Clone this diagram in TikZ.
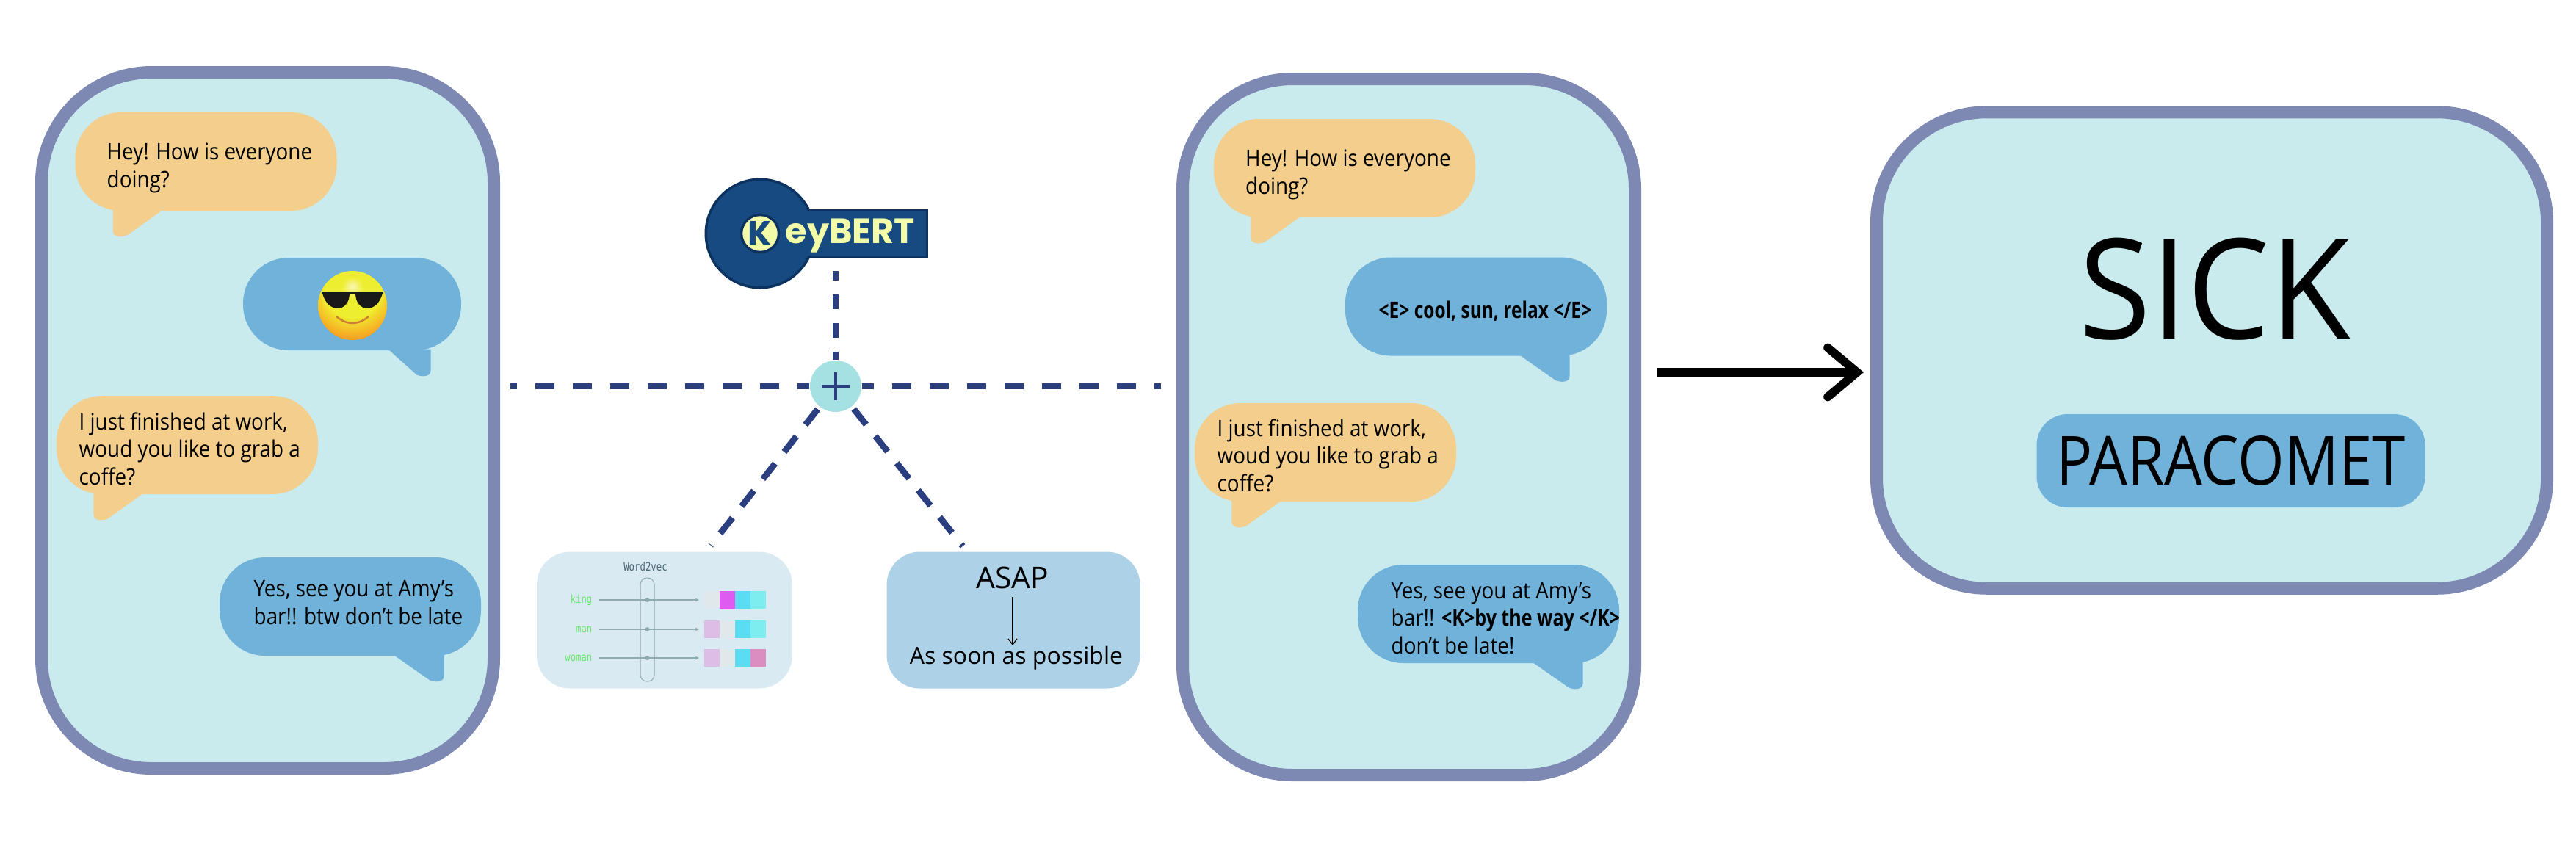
\documentclass[tikz,border=0pt]{standalone}
\usepackage{fontspec}
\setmainfont{Open Sans}
\newfontfamily\msgfont[FakeStretch=0.9]{Open Sans}
\newfontfamily\logofont{Poppins}
\newfontfamily\vecfont{DejaVu Sans Mono}
\usetikzlibrary{arrows.meta,positioning,calc}
\definecolor{panelFill}{HTML}{C9EBEE}
\definecolor{panelLine}{HTML}{7D89B3}
\definecolor{msgOrange}{HTML}{F3CE8C}
\definecolor{msgBlue}{HTML}{70B2D9}
\definecolor{linkBlue}{HTML}{2B3F80}
\definecolor{plusFill}{HTML}{A5E0E3}
\definecolor{kbBlue}{HTML}{174A80}
\definecolor{kbDark}{HTML}{0C3360}
\definecolor{kbLight}{HTML}{F2FCA8}
\definecolor{wvBox}{HTML}{DAEAF3}
\definecolor{wvLine}{HTML}{8FAAB0}
\definecolor{wvHead}{HTML}{4A6775}
\definecolor{wvWord}{HTML}{66E86A}
\definecolor{wvGray}{HTML}{E0E8EC}
\definecolor{wvPink}{HTML}{DD5BEF}
\definecolor{wvCyan}{HTML}{5ADDF2}
\definecolor{wvAqua}{HTML}{7DEDF0}
\definecolor{wvLilac}{HTML}{DDBDE6}
\definecolor{wvRose}{HTML}{DB8CC0}
\definecolor{asapFill}{HTML}{ADD2E8}
\definecolor{sunA}{HTML}{F7F6B0}
\definecolor{sunB}{HTML}{EEEE30}
\definecolor{sunC}{HTML}{F8A822}
\definecolor{sunD}{HTML}{E4601A}
\pgfdeclareradialshading{sunface}{\pgfpoint{0bp}{14bp}}{color(0bp)=(sunA); color(8bp)=(sunB); color(20bp)=(sunB); color(32bp)=(sunC); color(46bp)=(sunD); color(100bp)=(sunD)}
\tikzset{
  panel/.style={draw=panelLine, fill=panelFill, line width=0.17cm, rounded corners=1.5cm, inner sep=0pt},
  msg/.style={fill=#1, rounded corners=0.62cm, inner sep=0pt, minimum width=3.56cm, minimum height=1.34cm},
  msgtext/.style={inner sep=0pt, align=left, anchor=base west, font=\msgfont\fontsize{8.8}{10.67}\selectfont},
  link/.style={draw=linkBlue, line width=0.085cm, dash pattern=on 0.26cm off 0.25cm},
  vecarrow/.style={draw=wvLine, -{Latex[length=0.05cm,width=0.05cm]}, shorten <=0.09cm, shorten >=0.06cm},
  veccell/.style={minimum width=0.21cm, minimum height=0.24cm, inner sep=0pt},
  vecword/.style={inner sep=0pt, anchor=east, text=wvWord, font=\vecfont\fontsize{4.3}{5}\selectfont},
  softbox/.style={rounded corners=0.45cm, minimum width=#1, minimum height=1.86cm, inner sep=0pt},
}
\begin{document}
\begin{tikzpicture}
\useasboundingbox (0,0) rectangle (35.08,-11.77);
% --- panels
\node[panel, minimum width=6.16cm, minimum height=9.48cm] (chatA) at (3.645,-5.725) {};
\node[panel, minimum width=6.16cm, minimum height=9.48cm] (chatB) at (19.185,-5.815) {};
\node[panel, minimum width=9.13cm, minimum height=6.485cm] (sick) at (30.12,-4.77) {};
% --- left chat
\node[msg=msgOrange] (a1) at (2.805,-2.20) {};
\node[msg=msgBlue, minimum width=2.97cm, minimum height=1.26cm] (a2) at (4.795,-4.14) {};
\node[msg=msgOrange] (a3) at (2.55,-6.06) {};
\node[msg=msgBlue] (a4) at (4.77,-8.26) {};
% --- right chat
\node[msg=msgOrange] (b1) at (18.31,-2.29) {};
\node[msg=msgBlue] (b2) at (20.10,-4.175) {};
\node[msg=msgOrange] (b3) at (18.05,-6.16) {};
\node[msg=msgBlue] (b4) at (20.27,-8.36) {};
% --- bubble tails
\foreach \bub/\anc/\dir/\tx/\jn/\col in {a1/west/1/0.52/1.20/msgOrange, a3/west/1/0.51/1.19/msgOrange, b1/west/1/0.51/1.19/msgOrange, b3/west/1/0.51/1.19/msgOrange, a2/east/-1/0.42/1.00/msgBlue, a4/east/-1/0.51/1.20/msgBlue, b2/east/-1/0.51/1.20/msgBlue, b4/east/-1/0.50/1.19/msgBlue}{
  \fill[\col, shift={(\bub.south \anc)}, xscale=\dir] (\tx,0.02) -- (\tx,-0.27) .. controls (\tx,-0.33) and (\tx+0.07,-0.37) .. (\tx+0.19,-0.33) -- (\jn,0.02) -- cycle;
}
% --- messages
\node[msgtext] (a1t) at (1.45,-2.55) {Hey! How is everyone\\doing?};
\node[msgtext] (a3t) at (1.07,-6.60) {I just finished at work,\\woud you like to grab a\\coffe?};
\node[msgtext] (a4t) at (3.45,-8.50) {Yes, see you at Amy’s\\bar!! btw don’t be late};
\node[msgtext] (b1t) at (16.955,-2.64) {Hey! How is everyone\\doing?};
\node[msgtext, anchor=west, font=\msgfont\fontsize{8.8}{10.67}\selectfont\bfseries] (b2t) at (18.77,-4.24) {\scalebox{0.88}[1]{<E> cool, sun, relax </E>}};
\node[msgtext] (b3t) at (16.57,-6.69) {I just finished at work,\\woud you like to grab a\\coffe?};
\node[msgtext] (b4t) at (18.94,-8.90) {Yes, see you at Amy’s\\bar!! \scalebox{0.9}[1]{\bfseries <K>by the way </K>}\\don’t be late!};
% --- emoji
\node[circle, minimum size=0.94cm, inner sep=0pt, shading=sunface] (emo) at (4.80,-4.16) {};
\begin{scope}[shift={(emo.center)}]
\fill[black!90] (-0.41,0.17) -- (-0.04,0.17) .. controls (-0.04,-0.10) and (-0.34,-0.12) .. (-0.41,0.17) -- cycle;
\fill[black!90] (0.41,0.17) -- (0.04,0.17) .. controls (0.04,-0.10) and (0.34,-0.12) .. (0.41,0.17) -- cycle;
\draw[black!90, line width=0.03cm] (-0.42,0.18) -- (0.42,0.18);
\draw[brown!80!orange, line width=0.025cm] (-0.22,-0.15) .. controls (-0.08,-0.27) and (0.08,-0.27) .. (0.22,-0.15);
\end{scope}
% --- keybert logo
\node[draw=kbDark, fill=kbBlue, line width=0.035cm, minimum width=2.26cm, minimum height=0.64cm, inner sep=0pt] (flag) at (11.495,-3.185) {};
\node[circle, draw=kbDark, fill=kbBlue, line width=0.035cm, minimum size=1.475cm, inner sep=0pt] (keyc) at (10.35,-3.18) {};
\fill[kbBlue] ($(keyc.center)+(0,0.30)$) rectangle ($(flag.south east)+(-0.04,0.04)$);
\fill[kbBlue] ($(keyc.center)+(0,0.30)$) rectangle ($(flag.north east)+(-0.04,-0.04)$);
\node[circle, draw=kbDark, fill=kbLight, line width=0.035cm, minimum size=0.51cm, inner sep=0pt, text=kbBlue, font=\logofont\bfseries\fontsize{13.4}{14}\selectfont] (keyk) at (10.35,-3.18) {K};
\node[anchor=base west, inner sep=0pt, text=kbLight, font=\logofont\bfseries\fontsize{13.6}{14}\selectfont] (keyt) at (10.69,-3.317) {eyBERT};
% --- junction
\node[circle, fill=plusFill, minimum size=0.70cm, inner sep=0pt] (plus) at (11.38,-5.26) {};
\draw[linkBlue, line width=0.04cm] ($(plus.center)+(-0.19,0)$) -- ($(plus.center)+(0.19,0)$);
\draw[linkBlue, line width=0.04cm] ($(plus.center)+(0,-0.19)$) -- ($(plus.center)+(0,0.19)$);
% --- word2vec box
\node[softbox=3.48cm, fill=wvBox] (wbox) at (9.05,-8.445) {};
\node[inner sep=0pt, text=wvHead, font=\vecfont\fontsize{4.5}{5}\selectfont] (whead) at (8.79,-7.72) {\scalebox{0.78}[1]{Word2vec}};
\node[draw=wvLine, line width=0.01cm, rounded corners=0.09cm, minimum width=0.19cm, minimum height=1.41cm, inner sep=0pt] (wcaps) at (8.815,-8.575) {};
\foreach \word/\yy/\lw/\ca/\cb/\cc/\cd in {king/-8.17/0.02/wvGray/wvPink/wvCyan/wvAqua, man/-8.57/0.012/wvLilac/wvGray/wvCyan/wvAqua, woman/-8.96/0.02/wvLilac/wvGray/wvCyan/wvRose}{
  \node[vecword] (\word) at (8.07,\yy) {\scalebox{0.81}[1]{\word}};
  \foreach \col [count=\i from 0] in {\ca,\cb,\cc,\cd}{
    \pgfmathsetmacro{\xx}{9.695+\i*0.21}
    \node[veccell, fill=\col] (\word\i) at (\xx,\yy) {};
  }
  \draw[vecarrow, line width=\lw cm] (\word.east) -- (\word0.west);
  \fill[wvLine] (8.815,\yy) circle (0.03);
}
% --- abbreviation box
\node[softbox=3.45cm, fill=asapFill] (abox) at (13.80,-8.445) {};
\node[anchor=base, inner sep=0pt, font=\fontsize{11.6}{12}\selectfont] (asapt) at (13.79,-8.01) {ASAP};
\node[anchor=base, inner sep=0pt, font=\fontsize{9.1}{10}\selectfont] (asapl) at (13.84,-9.04) {As soon as possible};
\draw[-{Straight Barb[length=0.08cm,width=0.12cm]}, line width=0.013cm, shorten <=0.11cm] (asapt.south) -- (asapt.south |- asapl.north);
% --- dashed links
\draw[link, dash phase=0.10cm, shorten >=0.14cm] (plus) -- (chatA.east |- plus);
\draw[link, dash phase=0.10cm, shorten >=0.21cm] (plus) -- (chatB.west |- plus);
\draw[link, dash pattern=on 0.20cm off 0.19cm, dash phase=0.09cm, shorten >=0.17cm] (plus) -- (plus |- flag.south);
\draw[link, dash pattern=on 0.27cm off 0.20cm, shorten <=0.04cm] (plus) -- ($(wbox.north)+(0.63,0.08)$);
\draw[link, dash pattern=on 0.27cm off 0.20cm, shorten <=0.04cm] (plus) -- ($(abox.north)+(-0.69,0.07)$);
% --- result
\draw[line width=0.116cm, -{Straight Barb[length=0.40cm,width=0.67cm,line cap=round]}, shorten <=0.21cm, shorten >=0.09cm] (chatB.east |- 0,-5.07) -- (sick.west |- 0,-5.07);
\node[anchor=base, inner sep=0pt, font=\fontsize{54}{54}\selectfont] (sickt) at (30.16,-4.61) {\scalebox{0.94}[1]{SICK}};
\node[fill=msgBlue, rounded corners=0.42cm, minimum width=5.29cm, minimum height=1.27cm, inner sep=0pt, font=\fontsize{26.3}{27}\selectfont] (para) at (30.38,-6.275) {\scalebox{0.885}[1]{PARACOMET}};
\end{tikzpicture}
\end{document}
